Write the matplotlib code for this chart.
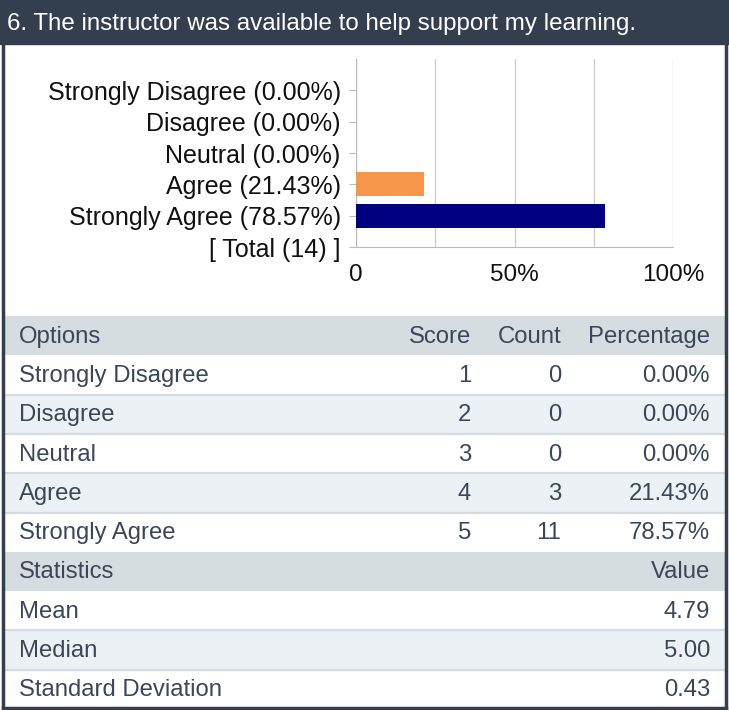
import matplotlib.pyplot as plt
from matplotlib.patches import Rectangle

# dados
titulo = "6. The instructor was available to help support my learning."
opcoes = ["Strongly Disagree", "Disagree", "Neutral", "Agree", "Strongly Agree"]
pontos = [1, 2, 3, 4, 5]
contagem = [0, 0, 0, 3, 11]
percentuais = [0.00, 0.00, 0.00, 21.43, 78.57]
total = 14
cores_barras = ["#f5964a", "#f5964a", "#f5964a", "#f5964a", "#000080"]
estatisticas = ["Mean", "Median", "Standard Deviation"]
valores_estat = [4.79, 5.00, 0.43]

W, H = 729, 710
fig = plt.figure(figsize=(W / 100, H / 100), dpi=100)
plt.rcParams['font.family'] = ['Liberation Sans', 'DejaVu Sans']

# eixo de fundo em pixels
fundo = fig.add_axes([0, 0, 1, 1])
fundo.set_xlim(0, W)
fundo.set_ylim(H, 0)
fundo.axis("off")

escuro = "#333f4f"
texto_tab = "#3b4757"
fundo.add_patch(Rectangle((0, 0), W, 44, color=escuro))
fundo.text(7, 24, titulo, color="white", fontsize=17.4, va="center", ha="left")

# tabela
topo = 316
alt = 39.3
fs_tab = 17.2
linhas = []
linhas.append(("head", ["Options", "Score", "Count", "Percentage"]))
for i in range(len(opcoes)):
    linhas.append(("row", [opcoes[i], str(pontos[i]), str(contagem[i]), "%.2f%%" % percentuais[i]]))
linhas.append(("head", ["Statistics", "", "", "Value"]))
for i in range(len(estatisticas)):
    linhas.append(("row", [estatisticas[i], "", "", "%.2f" % valores_estat[i]]))

par = 0
for k, (tipo, cels) in enumerate(linhas):
    y0 = topo + k * alt
    if tipo == "head":
        cor = "#d6dde1"
        par = 0
    else:
        cor = "white" if par % 2 == 0 else "#ecf1f5"
        par += 1
    fundo.add_patch(Rectangle((4, y0), W - 8, alt, color=cor, lw=0))
    if k > 0 and tipo == "row" and linhas[k - 1][0] == "row":
        fundo.plot([4, W - 4], [y0, y0], color="#d5dce1", lw=1.6)
    yc = y0 + alt / 2 + 1
    fundo.text(19, yc, cels[0], color=texto_tab, fontsize=fs_tab, va="center", ha="left")
    fundo.text(471, yc, cels[1], color=texto_tab, fontsize=fs_tab, va="center", ha="right")
    fundo.text(561, yc, cels[2], color=texto_tab, fontsize=fs_tab, va="center", ha="right")
    fundo.text(710, yc, cels[3], color=texto_tab, fontsize=fs_tab, va="center", ha="right")

# moldura
fundo.plot([3, 3], [0, H - 2], color=escuro, lw=2.5)
fundo.plot([W - 3, W - 3], [0, H - 2], color=escuro, lw=2.5)
fundo.plot([3, W - 3], [H - 2, H - 2], color=escuro, lw=2.5)

# grafico de barras
x0, x1, y_top, y_bot = 356, 673, 59, 247
ax = fig.add_axes([x0 / W, (H - y_bot) / H, (x1 - x0) / W, (y_bot - y_top) / H])
ax.set_facecolor("none")
rotulos = [f"{o} ({p:.2f}%)" for o, p in zip(opcoes, percentuais)] + [f"[ Total ({total}) ]"]
pos = list(range(len(rotulos)))
ax.barh(pos[:-1], percentuais, height=0.77, color=cores_barras, zorder=3)
ax.set_ylim(5, -1)
ax.set_xlim(0, 100)
ax.set_yticks(pos)
ax.set_yticklabels(rotulos, fontsize=18, color="#111111")
ax.set_xticks([0, 50, 100])
ax.set_xticklabels(["0", "50%", "100%"], fontsize=17.5, color="#111111")
ax.set_xticks([25, 75], minor=True)
ax.grid(axis="x", which="both", color="#d0d0d0", lw=1)
ax.tick_params(axis="x", which="both", length=0, pad=12)
ax.tick_params(axis="y", length=5, color="#bbbbbb", pad=6)
for lado in ["top", "right"]:
    ax.spines[lado].set_visible(False)
ax.spines["left"].set_color("#bbbbbb")
ax.spines["bottom"].set_color("#bbbbbb")

fig.savefig("out.png", dpi=100)
